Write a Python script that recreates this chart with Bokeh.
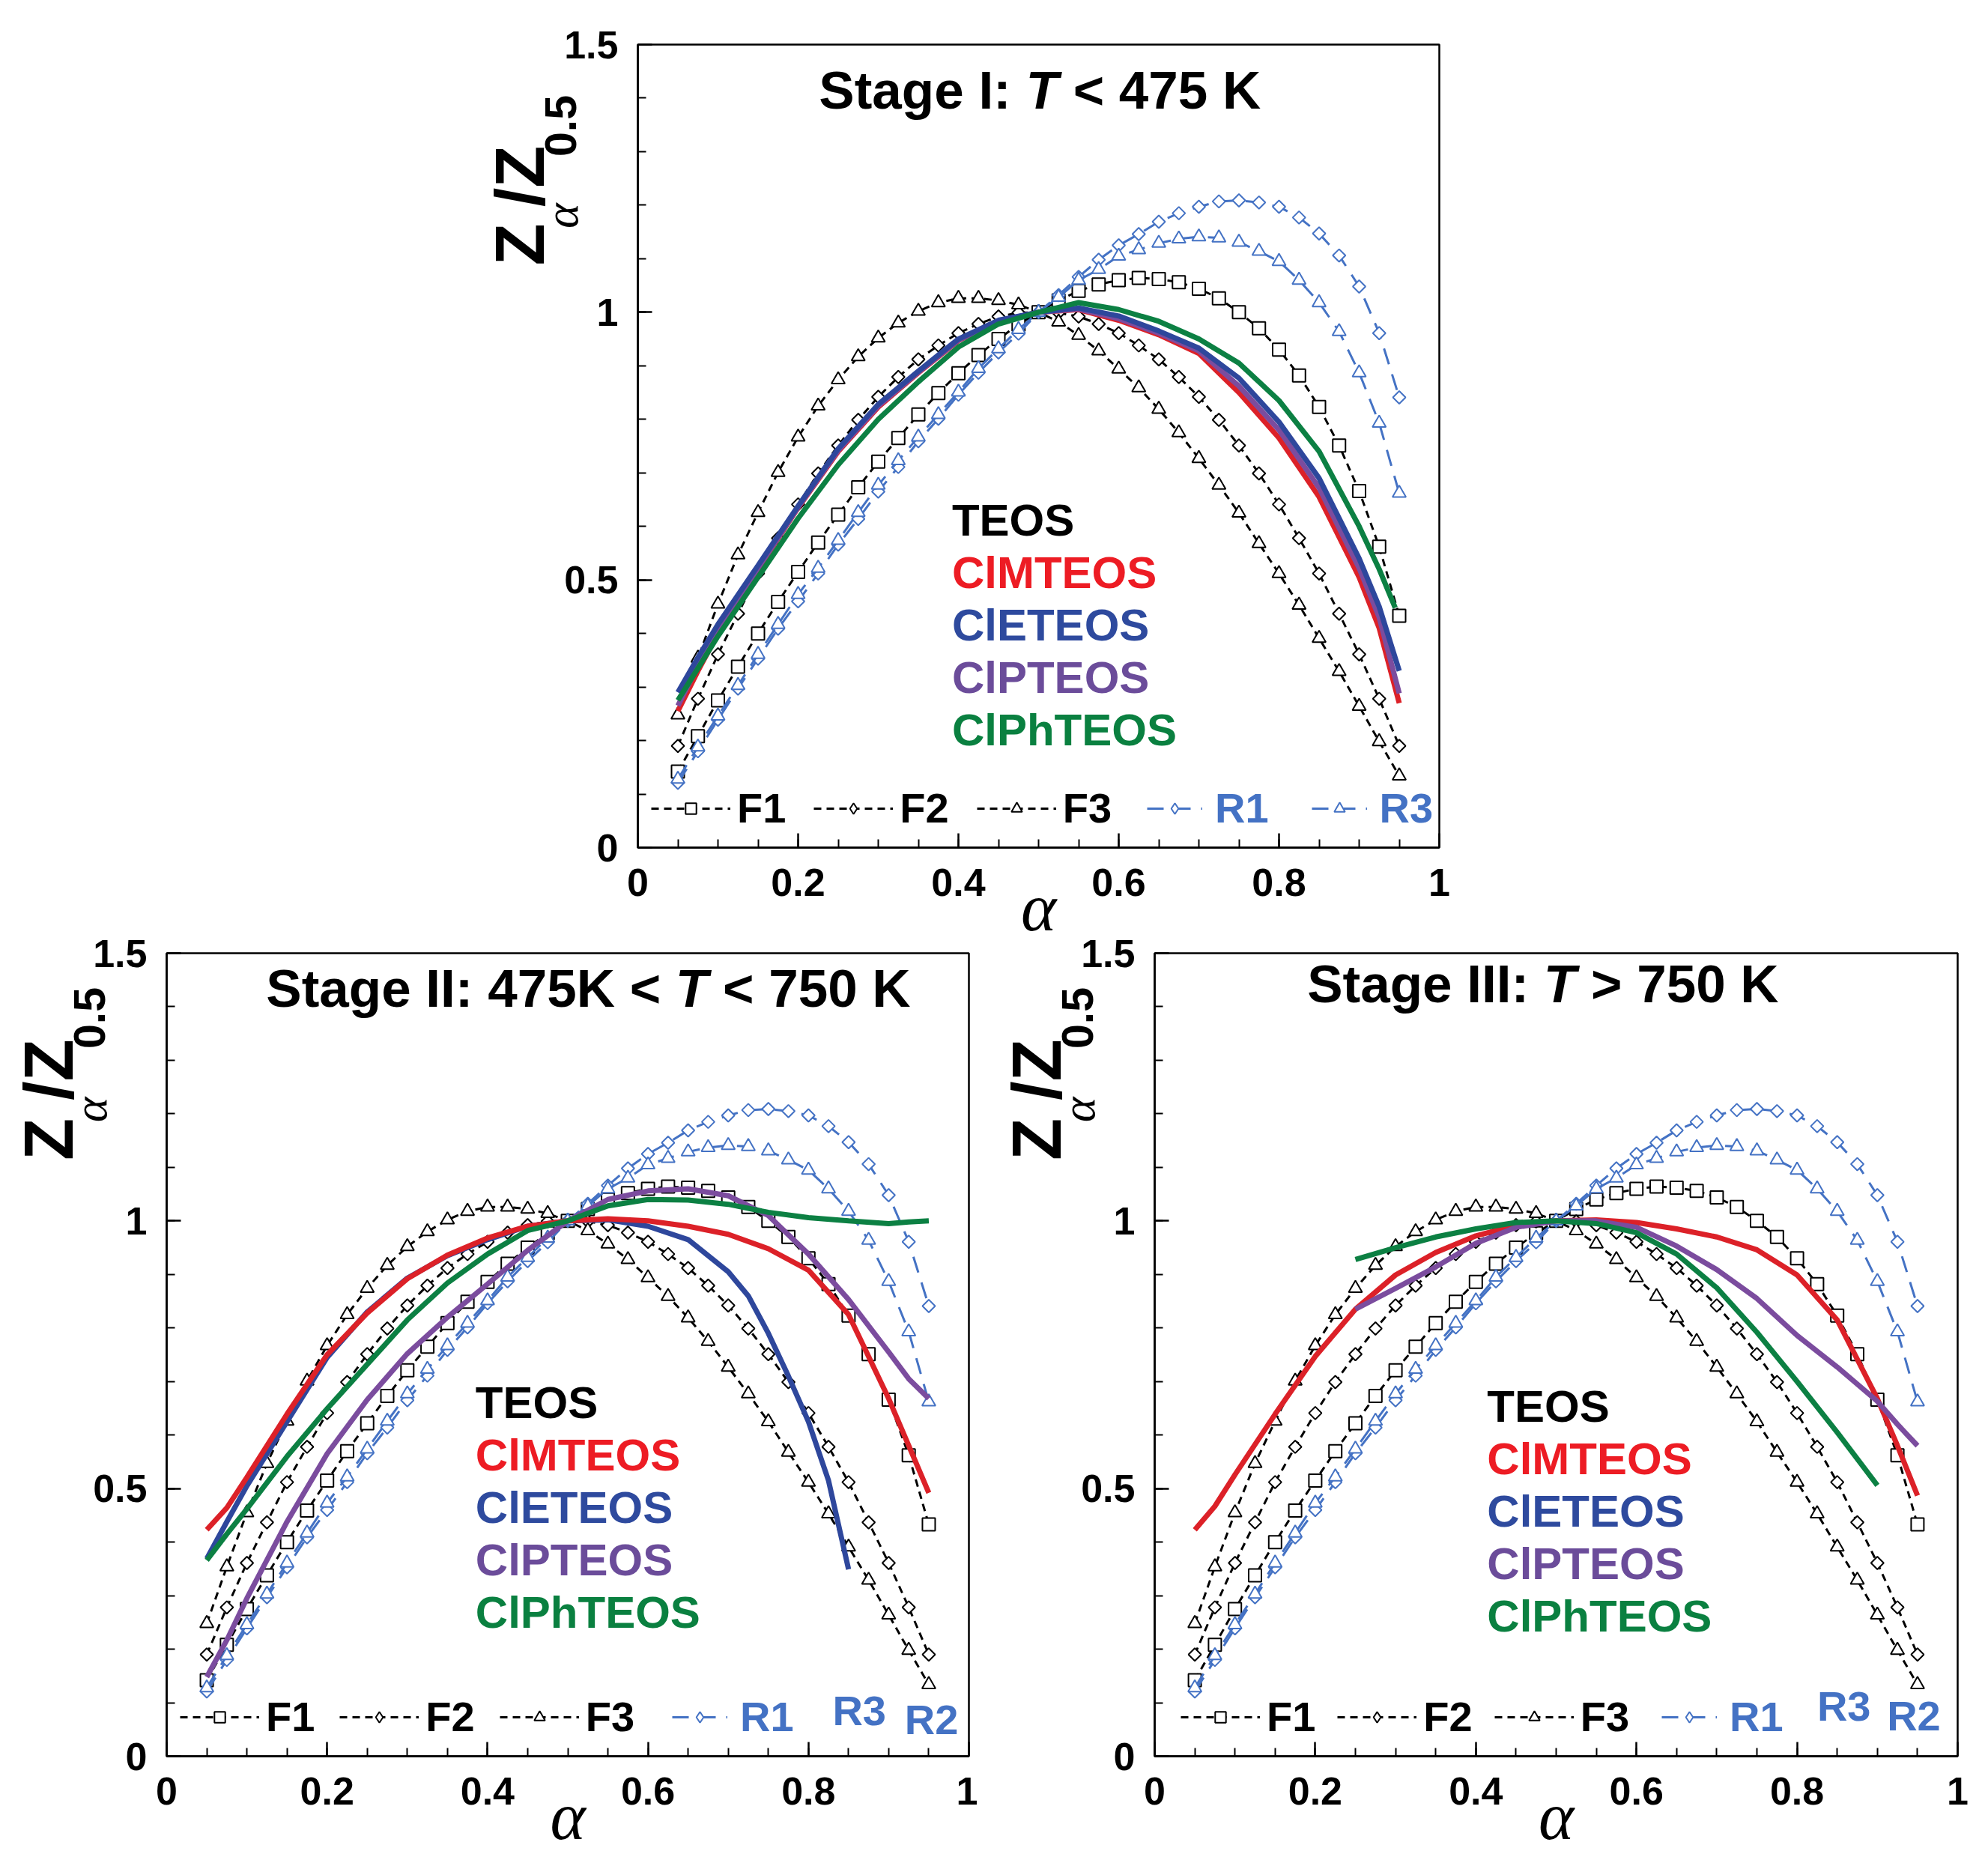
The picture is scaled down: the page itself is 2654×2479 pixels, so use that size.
import math
from bokeh.plotting import figure
from bokeh.models import Range1d, FixedTicker, Label, Legend, LegendItem, Spacer
from bokeh.layouts import row, column
from bokeh.embed import file_html
from bokeh.resources import INLINE

# reference model curves, identical in the three stages
alpha_ref = [0.05, 0.075, 0.1, 0.125, 0.15, 0.175, 0.2, 0.225, 0.25, 0.275, 0.3, 0.325,
             0.35, 0.375, 0.4, 0.425, 0.45, 0.475, 0.5, 0.525, 0.55, 0.575, 0.6, 0.625,
             0.65, 0.675, 0.7, 0.725, 0.75, 0.775, 0.8, 0.825, 0.85, 0.875, 0.9, 0.925, 0.95]
F1 = [0.142, 0.208, 0.275, 0.338, 0.400, 0.459, 0.515, 0.570, 0.622, 0.673, 0.721, 0.765,
      0.809, 0.849, 0.886, 0.920, 0.950, 0.977, 1.000, 1.022, 1.040, 1.052, 1.060, 1.064,
      1.062, 1.056, 1.044, 1.026, 1.000, 0.970, 0.930, 0.882, 0.823, 0.751, 0.666, 0.562, 0.433]
F2 = [0.190, 0.278, 0.361, 0.437, 0.512, 0.578, 0.641, 0.699, 0.751, 0.799, 0.842, 0.879,
      0.912, 0.938, 0.961, 0.978, 0.992, 0.999, 1.000, 0.999, 0.992, 0.978, 0.961, 0.938,
      0.912, 0.879, 0.842, 0.799, 0.751, 0.699, 0.641, 0.578, 0.512, 0.437, 0.361, 0.278, 0.190]
F3 = [0.248, 0.354, 0.455, 0.547, 0.626, 0.701, 0.767, 0.825, 0.874, 0.917, 0.952, 0.980,
      1.002, 1.018, 1.026, 1.026, 1.022, 1.014, 1.000, 0.982, 0.957, 0.928, 0.894, 0.859,
      0.819, 0.775, 0.727, 0.677, 0.625, 0.568, 0.512, 0.453, 0.391, 0.329, 0.264, 0.198, 0.134]
R1 = [0.121, 0.180, 0.239, 0.297, 0.353, 0.409, 0.460, 0.512, 0.566, 0.614, 0.665, 0.711,
      0.759, 0.801, 0.846, 0.887, 0.925, 0.960, 1.000, 1.032, 1.066, 1.098, 1.125, 1.146,
      1.169, 1.185, 1.197, 1.207, 1.209, 1.205, 1.197, 1.177, 1.147, 1.106, 1.048, 0.961, 0.841]
R3 = [0.128, 0.188, 0.246, 0.303, 0.361, 0.417, 0.473, 0.522, 0.574, 0.626, 0.677, 0.723,
      0.767, 0.809, 0.851, 0.895, 0.932, 0.968, 1.000, 1.028, 1.060, 1.080, 1.105, 1.117,
      1.129, 1.137, 1.141, 1.139, 1.131, 1.114, 1.095, 1.060, 1.018, 0.964, 0.887, 0.793, 0.662]

# experimental curves
alpha_exp = [0.05, 0.075, 0.1, 0.15, 0.2, 0.25, 0.3, 0.35, 0.4, 0.45, 0.5,
             0.55, 0.6, 0.65, 0.7, 0.75, 0.8, 0.85, 0.9, 0.925, 0.95]

# Stage I
s1_red = [0.255, 0.330, 0.400, 0.520, 0.635, 0.740, 0.823, 0.887, 0.947, 0.983, 1.000,
          1.005, 0.985, 0.958, 0.923, 0.850, 0.765, 0.655, 0.505, 0.410, 0.270]
s1_purple = [0.265, 0.340, 0.405, 0.522, 0.636, 0.742, 0.825, 0.888, 0.948, 0.984, 1.000,
             1.006, 0.988, 0.961, 0.928, 0.862, 0.780, 0.672, 0.522, 0.430, 0.288]
s1_blue = [0.290, 0.355, 0.417, 0.527, 0.638, 0.745, 0.828, 0.890, 0.950, 0.985, 1.000,
           1.008, 0.993, 0.965, 0.933, 0.877, 0.795, 0.690, 0.540, 0.450, 0.330]
s1_green_alpha = [0.05, 0.075, 0.1, 0.15, 0.2, 0.25, 0.3, 0.35, 0.4, 0.45, 0.5,
                  0.55, 0.6, 0.65, 0.7, 0.75, 0.8, 0.85, 0.9, 0.925, 0.945]
s1_green = [0.275, 0.335, 0.395, 0.505, 0.615, 0.715, 0.800, 0.870, 0.935, 0.978, 1.000,
            1.018, 1.005, 0.983, 0.950, 0.905, 0.835, 0.740, 0.600, 0.520, 0.448]

# Stage II
s2_red = [0.423, 0.464, 0.521, 0.639, 0.750, 0.828, 0.892, 0.936, 0.968, 0.990, 1.000,
          1.004, 1.000, 0.990, 0.975, 0.948, 0.908, 0.825, 0.668, 0.580, 0.492]
s2_purple = [0.148, 0.217, 0.295, 0.438, 0.565, 0.666, 0.752, 0.820, 0.882, 0.945, 1.000,
             1.040, 1.056, 1.060, 1.047, 1.010, 0.938, 0.853, 0.755, 0.705, 0.668]
s2_green = [0.366, 0.415, 0.462, 0.560, 0.649, 0.732, 0.815, 0.884, 0.938, 0.982, 1.000,
            1.028, 1.040, 1.039, 1.031, 1.016, 1.006, 1.000, 0.995, 0.998, 1.000]
s2_blue_alpha = [0.05, 0.075, 0.1, 0.15, 0.2, 0.25, 0.3, 0.35, 0.4, 0.45, 0.5,
                 0.55, 0.6, 0.65, 0.7, 0.725, 0.75, 0.775, 0.8, 0.825, 0.85]
s2_blue = [0.369, 0.438, 0.505, 0.625, 0.745, 0.830, 0.893, 0.935, 0.965, 0.990, 1.000,
           1.002, 0.990, 0.965, 0.905, 0.860, 0.790, 0.710, 0.625, 0.515, 0.349]

# Stage III
s3_red = [0.423, 0.467, 0.526, 0.639, 0.747, 0.835, 0.899, 0.941, 0.972, 0.992, 1.000,
          1.002, 0.997, 0.985, 0.970, 0.946, 0.899, 0.815, 0.668, 0.580, 0.487]
s3_purple_alpha = [0.25, 0.3, 0.35, 0.4, 0.45, 0.5, 0.55, 0.6, 0.65, 0.7, 0.75, 0.8,
                   0.85, 0.9, 0.925, 0.95]
s3_purple = [0.835, 0.874, 0.914, 0.958, 0.988, 1.000, 1.000, 0.988, 0.953, 0.909, 0.855,
             0.786, 0.727, 0.663, 0.620, 0.580]
s3_green_alpha = [0.25, 0.3, 0.35, 0.4, 0.45, 0.5, 0.55, 0.6, 0.65, 0.7, 0.75, 0.8, 0.85, 0.9]
s3_green = [0.928, 0.950, 0.970, 0.985, 0.997, 1.000, 0.995, 0.978, 0.938, 0.875, 0.792,
            0.700, 0.605, 0.506]

legend_names = ["TEOS", "ClMTEOS", "ClETEOS", "ClPTEOS", "ClPhTEOS"]
legend_colors = ["#000000", "#ED1C24", "#2E4A9E", "#6B4C9A", "#0A8040"]

RED, BLUE, PURPLE, GREEN = "#DC2128", "#2E479C", "#7B4C9E", "#0C8043"
RBLUE = "#4472C4"
SANS = "Liberation Sans"
SERIF = "Liberation Serif"

BOLD_W = {"S": 0.667, "t": 0.333, "a": 0.556, "g": 0.611, "e": 0.556, " ": 0.278,
          "I": 0.278, ":": 0.333, "T": 0.611, "<": 0.584, ">": 0.584, "K": 0.722,
          "0": 0.556, "4": 0.556, "5": 0.556, "7": 0.556}

# page geometry of the three plot frames: left, bottom, width, height (px)
TOP_FRAME = (849, 1131, 1070, 1072)
BL_FRAME = (220, 2344, 1071, 1072)
BR_FRAME = (1537, 2344, 1072, 1072)
LEFT_BORDER = 99


def make_panel(fw, mb_right, mb_top, shift_left):
    p = figure(frame_width=fw, frame_height=1072, x_range=Range1d(0, 1), y_range=Range1d(0, 1.5),
               output_backend="svg", toolbar_location=None,
               min_border_left=LEFT_BORDER, min_border_right=mb_right,
               min_border_top=mb_top, min_border_bottom=150,
               margin=(0, 0, 0, -shift_left))
    p.border_fill_color = None
    p.grid.visible = False
    p.outline_line_color = "black"
    p.outline_line_width = 2.5
    p.xaxis.ticker = FixedTicker(ticks=[0, 0.2, 0.4, 0.6, 0.8, 1.0],
                                 minor_ticks=[i * 0.05 for i in range(1, 20)])
    p.xaxis.major_label_overrides = {0: "0", 0.2: "0.2", 0.4: "0.4", 0.6: "0.6", 0.8: "0.8", 1.0: "1"}
    p.yaxis.ticker = FixedTicker(ticks=[0, 0.5, 1.0, 1.5],
                                 minor_ticks=[i * 0.1 for i in range(1, 15)])
    p.yaxis.major_label_overrides = {0: "0", 0.5: "0.5", 1.0: "1", 1.5: "1.5"}
    for ax in (p.xaxis[0], p.yaxis[0]):
        ax.axis_line_width = 2.5
        ax.major_tick_line_width = 2.5
        ax.minor_tick_line_width = 2
        ax.major_tick_in = 19
        ax.major_tick_out = 0
        ax.minor_tick_in = 11
        ax.minor_tick_out = 0
        ax.major_label_text_font = SANS
        ax.major_label_text_font_style = "bold"
        ax.major_label_text_font_size = "52px"
        ax.major_label_text_color = "black"
    p.xaxis.major_label_standoff = 28
    p.yaxis.major_label_standoff = 26
    p.xaxis.axis_label = "α"
    p.xaxis.axis_label_text_font = SERIF
    p.xaxis.axis_label_text_font_style = "italic"
    p.xaxis.axis_label_text_font_size = "90px"
    p.xaxis.axis_label_text_color = "black"
    p.xaxis.axis_label_standoff = -37
    return p


def ylabel_fig(x0, x1, y0, y1, frame):
    # blank figure holding the y title, scaled in the units of the plot frame next to it
    left, bottom, fw, fh = frame
    ky = fh / 1.5
    f = figure(width=x1 - x0, height=y1 - y0,
               x_range=Range1d((x0 - left) / fw, (x1 - left) / fw),
               y_range=Range1d((bottom - y1) / ky, (bottom - y0) / ky),
               x_axis_type=None, y_axis_type=None, toolbar_location=None,
               output_backend="svg", min_border=0, outline_line_color=None,
               background_fill_color=None, border_fill_color=None)
    parts = [("Z", -0.1454, 1.088, "bold", SANS, "92px"),
             ("α", -0.0935, 1.171, "italic", SERIF, "64px"),
             ("/Z", -0.1454, 1.219, "bold", SANS, "92px"),
             ("0.5", -0.094, 1.332, "bold", SANS, "59px")]
    for txt, x, y, st, fnt, fs in parts:
        f.add_layout(Label(x=x, y=y, text=txt, angle=90, angle_units="deg", text_color="black",
                           text_font=fnt, text_font_style=st, text_font_size=fs,
                           text_align="left", text_baseline="middle"))
    return f


def add_title(p, parts, x0, y0, fw):
    fs = 71
    x = x0
    for txt, st in parts:
        lead = len(txt) - len(txt.lstrip(" "))
        x += lead * BOLD_W[" "] * fs / fw
        core = txt.strip(" ")
        p.add_layout(Label(x=x, y=y0, text=core, text_color="black", text_font=SANS,
                           text_font_style=st, text_font_size=f"{fs}px", text_align="left",
                           text_baseline="middle"))
        x += sum(BOLD_W[c] for c in core) * fs / fw


def add_refs(p):
    r = {}
    specs = [("F1", F1, "black", "square", 17, 0, "10 7"),
             ("F2", F2, "black", "square", 12, math.pi / 4, "10 7"),
             ("F3", F3, "black", "triangle", 18, 0, "10 7"),
             ("R1", R1, RBLUE, "square", 12, math.pi / 4, "22 14"),
             ("R3", R3, RBLUE, "triangle", 18, 0, "22 14")]
    for name, ys, col, mk, sz, ang, dash in specs:
        ln = p.line(alpha_ref, ys, line_color=col, line_width=3, line_dash=dash)
        sc = p.scatter(alpha_ref, ys, marker=mk, size=sz, angle=ang, line_color=col,
                       line_width=2, fill_color="white")
        if ang:
            # legend keys ignore the marker angle, so the diamonds get their own key
            key = p.scatter([math.nan], [math.nan], marker="diamond", size=17, line_color=col,
                            line_width=2, fill_color="white")
            r[name] = [ln, key]
        else:
            r[name] = [ln, sc]
    return r


def add_legends(p, r, names_r, fx, rx, spacing):
    common = dict(orientation="horizontal", padding=0, margin=0, border_line_alpha=0,
                  background_fill_alpha=0, glyph_height=36, label_height=36,
                  label_text_font=SANS, label_text_font_style="bold",
                  label_text_font_size="56px")
    lf = Legend(items=[LegendItem(label=n, renderers=r[n]) for n in ["F1", "F2", "F3"]],
                location=(fx, 20), glyph_width=106, label_standoff=9, spacing=spacing,
                label_text_color="black", **common)
    lr = Legend(items=[LegendItem(label=n, renderers=r[n]) for n in names_r],
                location=(rx, 20), glyph_width=74, label_standoff=17, spacing=57,
                label_text_color=RBLUE, **common)
    p.add_layout(lf)
    p.add_layout(lr)


def add_names(p, x0, y0):
    for i, (n, c) in enumerate(zip(legend_names, legend_colors)):
        p.add_layout(Label(x=x0, y=y0 - 0.098 * i, text=n, text_color=c, text_font=SANS,
                           text_font_style="bold", text_font_size="60px",
                           text_align="left", text_baseline="middle"))


def add_r_labels(p, items):
    for txt, x, y in items:
        p.add_layout(Label(x=x, y=y, text=txt, text_color=RBLUE, text_font=SANS,
                           text_font_style="bold", text_font_size="56px",
                           text_align="left", text_baseline="middle"))


# ---- Stage I
p1 = make_panel(1070, 30, 59, 50)
r = add_refs(p1)
p1.line(alpha_exp, s1_red, line_color=RED, line_width=7)
p1.line(alpha_exp, s1_purple, line_color=PURPLE, line_width=7)
p1.line(alpha_exp, s1_blue, line_color=BLUE, line_width=7)
p1.line(s1_green_alpha, s1_green, line_color=GREEN, line_width=7)
add_legends(p1, r, ["R1", "R3"], 18, 680, 37)
add_names(p1, 0.392, 0.612)
add_title(p1, [("Stage I:", "bold"), (" T", "bold italic"), (" < 475 K", "bold")],
          0.226, 1.414, 1070)

# ---- Stage II
p2 = make_panel(1071, 12, 29, 49)
r = add_refs(p2)
p2.line(s2_blue_alpha, s2_blue, line_color=BLUE, line_width=7)
p2.line(alpha_exp, s2_red, line_color=RED, line_width=7)
p2.line(alpha_exp, s2_purple, line_color=PURPLE, line_width=7)
p2.line(alpha_exp, s2_green, line_color=GREEN, line_width=7)
add_legends(p2, r, ["R1"], 18, 675, 33)
add_names(p2, 0.385, 0.66)
add_title(p2, [("Stage II:", "bold"), (" 475K <", "bold"), (" T", "bold italic"),
               (" < 750 K", "bold")], 0.124, 1.434, 1071)
add_r_labels(p2, [("R3", 0.83, 0.085), ("R2", 0.92, 0.068)])

# ---- Stage III
p3 = make_panel(1072, 30, 29, 52)
r = add_refs(p3)
p3.line(alpha_exp, s3_red, line_color=RED, line_width=7)
p3.line(s3_purple_alpha, s3_purple, line_color=PURPLE, line_width=7)
p3.line(s3_green_alpha, s3_green, line_color=GREEN, line_width=7)
add_legends(p3, r, ["R1"], 35, 677, 29)
add_names(p3, 0.414, 0.654)
add_title(p3, [("Stage III:", "bold"), (" T", "bold italic"), (" > 750 K", "bold")],
          0.19, 1.442, 1072)
add_r_labels(p3, [("R3", 0.825, 0.094), ("R2", 0.912, 0.075)])

# y titles live in blank figures that the plots' transparent borders overlap
yl1 = ylabel_fig(640, 800, 0, 1264, TOP_FRAME)
yl2 = ylabel_fig(0, 170, 1243, 2477, BL_FRAME)
yl3 = ylabel_fig(1303, 1490, 1243, 2477, BR_FRAME)

layout = column(
    row(Spacer(width=640, height=1281), yl1, p1),
    row(yl2, p2, yl3, p3, margin=(-38, 0, -15, 0)),
)
open("out.html", "w").write(file_html(layout, INLINE))
